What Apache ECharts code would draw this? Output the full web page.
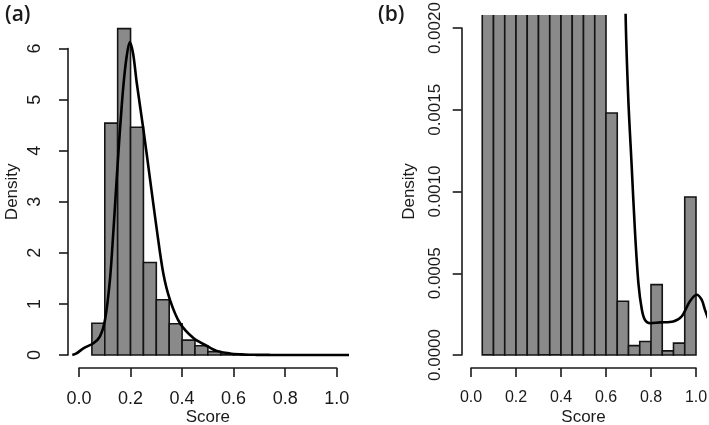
<!DOCTYPE html>
<html><head><meta charset="utf-8">
<script src="https://cdn.jsdelivr.net/npm/echarts@6/dist/echarts.min.js"></script>
<style>html,body{margin:0;padding:0;background:#fff}#c{width:709px;height:425px}</style>
</head><body><div id="c"></div>
<script>
// ---- data ----
const binStarts = [0.05,0.10,0.15,0.20,0.25,0.30,0.35,0.40,0.45,0.50,0.55,0.60,0.65,0.70,0.75,0.80,0.85,0.90,0.95];
const binWidth = 0.05;
const binDensity = [0.62,4.54,6.39,4.46,1.81,1.08,0.61,0.29,0.18,0.065,0.02,0.00148,0.000328,0.000057,0.000082,0.00043,0.000025,0.000072,0.000966];
const curveX = [-0.026,-0.01,0.017,0.056,0.081,0.101,0.12,0.133,0.146,0.159,0.172,0.185,0.197,0.21,0.224,0.25,0.276,0.302,0.327,0.353,0.392,0.444,0.495,0.534,0.586,0.63,0.66,0.687,0.699,0.714,0.729,0.744,0.759,0.773,0.796,0.84,0.899,0.936,0.973,1.003,1.025,1.04,1.06];
const curveY = [0,0.03,0.13,0.23,0.36,0.69,1.47,2.39,3.43,4.41,5.26,5.85,6.13,5.9,5.33,4.41,3.43,2.45,1.6,1.08,0.62,0.33,0.18,0.08,0.03,0.012,0.005,0.0021,0.00157,0.00116,0.00075,0.00044,0.00028,0.000215,0.000194,0.000199,0.000205,0.000235,0.000328,0.000368,0.000338,0.000276,0.0002];
const xTickMax = 1.0, xTickStep = 0.2;
const yTickMaxA = 6, yTickStepA = 1;
const yLimB = 0.002, yTickStepB = 0.0005;
const zoomCurveFrom = 0.6;   // panel (b) shows the tail of the density curve
const panelLabels = ['(a)', '(b)'];
const xTitle = 'Score', yTitle = 'Density';

// ---- build ----
const FONT = 'Liberation Sans, Arial, sans-serif';
const INK = '#1a1a1a';
const yMaxA = Math.max(...binDensity);
const padA = yMaxA * 0.04, padB = yLimB * 0.04;
const histData = binStarts.map((s, i) => [s, s + binWidth, binDensity[i]]);
const curveData = curveX.map((x, i) => [x, curveY[i]]);
const curveDataB = curveData.filter(p => p[0] >= zoomCurveFrom);

function renderBar(params, api) {
  const p0 = api.coord([api.value(0), api.value(2)]);
  const p1 = api.coord([api.value(1), 0]);
  return {type: 'rect', shape: {x: p0[0], y: p0[1], width: p1[0] - p0[0], height: p1[1] - p0[1]},
    style: {fill: '#8a8a8a', stroke: '#141414', lineWidth: 1.6}};
}

const hidden = {show: false};
const axisLineStyle = {show: true, lineStyle: {color: INK, width: 1.6}};
const tickStyle = {show: true, length: 9, lineStyle: {color: INK, width: 1.6}};
const g = o => Object.assign({outerBoundsMode: 'none', containLabel: false}, o);

const option = {
  animation: false,
  backgroundColor: '#fff',
  title: [
    {text: panelLabels[0], left: 0, top: 0, textStyle: {fontFamily: 'Open Sans', fontWeight: 600, fontSize: 21, color: INK}},
    {text: panelLabels[1], left: 373, top: 0, textStyle: {fontFamily: 'Open Sans', fontWeight: 600, fontSize: 21, color: INK}}
  ],
  grid: [
    g({left: 68.7, top: 15.6, width: 278.3, height: 352.4}),   // A data
    g({left: 79, top: 340, width: 257.7, height: 28}),          // A x axis
    g({left: 68, top: 48.6, width: 20, height: 306.4}),         // A y axis
    g({left: 462, top: 15, width: 243, height: 353}),           // B data
    g({left: 471, top: 340, width: 225, height: 28}),           // B x axis
    g({left: 461.7, top: 28.1, width: 20, height: 326.9})       // B y axis
  ],
  xAxis: [
    {gridIndex: 0, type: 'value', min: -0.04, max: 1.04, axisLine: hidden, axisTick: hidden, axisLabel: hidden, splitLine: hidden,
      name: xTitle, nameLocation: 'middle', nameGap: 41, nameTextStyle: {fontFamily: FONT, fontSize: 17, color: INK}},
    {gridIndex: 1, type: 'value', min: 0, max: xTickMax, interval: xTickStep, position: 'bottom',
      axisLine: axisLineStyle, axisTick: tickStyle, splitLine: hidden,
      axisLabel: {fontFamily: FONT, fontSize: 18, color: INK, margin: 22, formatter: v => v.toFixed(1)}},
    {gridIndex: 2, type: 'value', show: false},
    {gridIndex: 3, type: 'value', min: -0.04, max: 1.04, axisLine: hidden, axisTick: hidden, axisLabel: hidden, splitLine: hidden,
      name: xTitle, nameLocation: 'middle', nameGap: 41, nameTextStyle: {fontFamily: FONT, fontSize: 17, color: INK}},
    {gridIndex: 4, type: 'value', min: 0, max: xTickMax, interval: xTickStep, position: 'bottom',
      axisLine: axisLineStyle, axisTick: tickStyle, splitLine: hidden,
      axisLabel: {fontFamily: FONT, fontSize: 16, color: INK, margin: 22, formatter: v => v.toFixed(1)}},
    {gridIndex: 5, type: 'value', show: false}
  ],
  yAxis: [
    {gridIndex: 0, type: 'value', min: -padA, max: yMaxA + padA, axisLine: hidden, axisTick: hidden, axisLabel: hidden, splitLine: hidden,
      name: yTitle, nameLocation: 'middle', nameGap: 48, nameRotate: 90, nameTextStyle: {fontFamily: FONT, fontSize: 17, color: INK}},
    {gridIndex: 1, type: 'value', show: false},
    {gridIndex: 2, type: 'value', min: 0, max: yTickMaxA, interval: yTickStepA, position: 'left',
      axisLine: axisLineStyle, axisTick: tickStyle, splitLine: hidden,
      axisLabel: {fontFamily: FONT, fontSize: 18, color: INK, margin: 24, rotate: 90}},
    {gridIndex: 3, type: 'value', min: -padB, max: yLimB + padB, axisLine: hidden, axisTick: hidden, axisLabel: hidden, splitLine: hidden,
      name: yTitle, nameLocation: 'middle', nameGap: 44, nameRotate: 90, nameTextStyle: {fontFamily: FONT, fontSize: 17, color: INK}},
    {gridIndex: 4, type: 'value', show: false},
    {gridIndex: 5, type: 'value', min: 0, max: yLimB, interval: yTickStepB, position: 'left',
      axisLine: axisLineStyle, axisTick: tickStyle, splitLine: hidden,
      axisLabel: {fontFamily: FONT, fontSize: 17, color: INK, margin: 18, rotate: 90, formatter: v => v.toFixed(4)}}
  ],
  series: [
    {type: 'custom', xAxisIndex: 0, yAxisIndex: 0, clip: true, renderItem: renderBar, data: histData, encode: {x: [0, 1], y: 2}, z: 2},
    {type: 'line', xAxisIndex: 0, yAxisIndex: 0, data: curveData, showSymbol: false, smooth: 0.3, clip: true,
      lineStyle: {color: '#000', width: 2.6}, z: 3},
    {type: 'custom', xAxisIndex: 3, yAxisIndex: 3, clip: true, renderItem: renderBar, data: histData, encode: {x: [0, 1], y: 2}, z: 2},
    {type: 'line', xAxisIndex: 3, yAxisIndex: 3, data: curveDataB, showSymbol: false, smooth: 0.3, clip: true,
      lineStyle: {color: '#000', width: 2.6}, z: 3}
  ]
};
const chart = echarts.init(document.getElementById('c'), null, {renderer: 'canvas'});
chart.setOption(option);
</script>
</body></html>
